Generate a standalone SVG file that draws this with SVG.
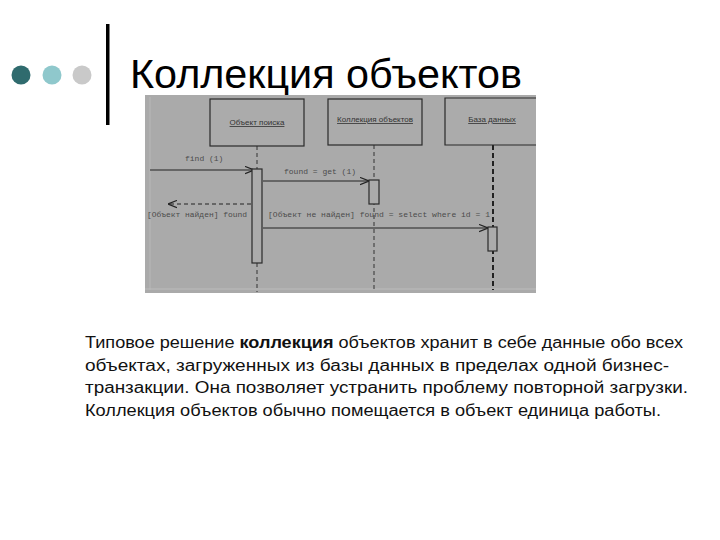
<svg xmlns="http://www.w3.org/2000/svg" width="720" height="540" viewBox="0 0 720 540">
<style>
.title{font-family:"Liberation Sans",Arial,sans-serif;font-size:40px;fill:#000}
.body{font-family:"Liberation Sans",Arial,sans-serif;font-size:16px;fill:#111}
.lbl{font-family:"Liberation Sans",Arial,sans-serif;font-size:8px;fill:#333;text-decoration:underline}
.msg{font-family:"Liberation Mono","Courier New",monospace;font-size:8px;fill:#4a4a4a}
.box{fill:#ababab;stroke:#2a2a2a;stroke-width:1.2}
.act{fill:#ababab;stroke:#2a2a2a;stroke-width:1.2}
.life{stroke:#333;stroke-width:1;stroke-dasharray:4 3;fill:none}
.life3{stroke:#222;stroke-width:2;stroke-dasharray:5 3;fill:none}
.call{stroke:#222;stroke-width:1.2;fill:none}
.ret{stroke:#222;stroke-width:1.2;stroke-dasharray:4 3;fill:none}
</style>
<defs>
<marker id="open" viewBox="0 0 10 10" refX="10" refY="5" markerWidth="9" markerHeight="9" markerUnits="userSpaceOnUse" orient="auto">
<path d="M0,1 L10,5 L0,9" fill="none" stroke="#222" stroke-width="1.3"/>
</marker>
</defs>
<rect width="720" height="540" fill="#fff"/>
<g id="decor">
<circle cx="21" cy="75" r="9.5" fill="#2f6b6e"/>
<circle cx="52" cy="75" r="9.5" fill="#8fc8cc"/>
<circle cx="82" cy="75" r="9.5" fill="#c9c9c9"/>
<rect x="106" y="24" width="3.5" height="101" fill="#000"/>
</g>
<text class="title" x="130" y="88" textLength="392" lengthAdjust="spacingAndGlyphs">Коллекция объектов</text>
<g id="diagram">
<rect x="145" y="95" width="391" height="198" fill="#aaaaaa"/>
<line x1="150" y1="97" x2="150" y2="290" stroke="#b8b8b8" stroke-width="1"/>
<line x1="145" y1="289" x2="536" y2="289" stroke="#bcbcbc" stroke-width="1"/>
<g id="connectors">
<line class="life" x1="257" y1="146" x2="257" y2="169"/>
<line class="life" x1="257" y1="263" x2="257" y2="292"/>
<line class="life" x1="374" y1="145" x2="374" y2="290"/>
<line class="life3" x1="493" y1="145" x2="493" y2="290"/>
<line class="call" x1="150" y1="170" x2="254" y2="170" marker-end="url(#open)"/>
<line class="call" x1="263" y1="181" x2="369" y2="181" marker-end="url(#open)"/>
<line class="ret" x1="251" y1="204" x2="168" y2="204" marker-end="url(#open)"/>
<line class="call" x1="263" y1="228" x2="488" y2="228" marker-end="url(#open)"/>
</g>
<g id="obj-search">
<rect class="box" x="210" y="99" width="94" height="47"/>
<text class="lbl" x="257" y="125" text-anchor="middle">Объект поиска</text>
<rect class="act" x="252" y="169" width="10" height="94"/>
</g>
<g id="obj-collection">
<rect class="box" x="328" y="99" width="94" height="46"/>
<text class="lbl" x="375" y="122" text-anchor="middle">Коллекция объектов</text>
<rect class="act" x="369" y="180" width="10" height="24"/>
</g>
<g id="obj-db">
<path class="box" d="M536,98 H445 V145 H536"/>
<text class="lbl" x="492" y="122" text-anchor="middle">База данных</text>
<rect class="act" x="488" y="227" width="9" height="24"/>
</g>
<text class="msg" x="185" y="161">find (1)</text>
<text class="msg" x="284" y="174">found = get (1)</text>
<text class="msg" x="147" y="217" textLength="100" lengthAdjust="spacingAndGlyphs">[Объект найден] found</text>
<text class="msg" x="268" y="217" textLength="222" lengthAdjust="spacingAndGlyphs">[Объект не найден] found = select where id = 1</text>
</g>
<g id="text">
<text class="body" x="85" y="348" textLength="598" lengthAdjust="spacingAndGlyphs">Типовое решение <tspan font-weight="bold">коллекция</tspan> объектов хранит в себе данные обо всех</text>
<text class="body" x="85" y="370.5" textLength="584" lengthAdjust="spacingAndGlyphs">объектах, загруженных из базы данных в пределах одной бизнес-</text>
<text class="body" x="85" y="393" textLength="603" lengthAdjust="spacingAndGlyphs">транзакции. Она позволяет устранить проблему повторной загрузки.</text>
<text class="body" x="85" y="415.5" textLength="576" lengthAdjust="spacingAndGlyphs">Коллекция объектов обычно помещается в объект единица работы.</text>
</g>
</svg>
